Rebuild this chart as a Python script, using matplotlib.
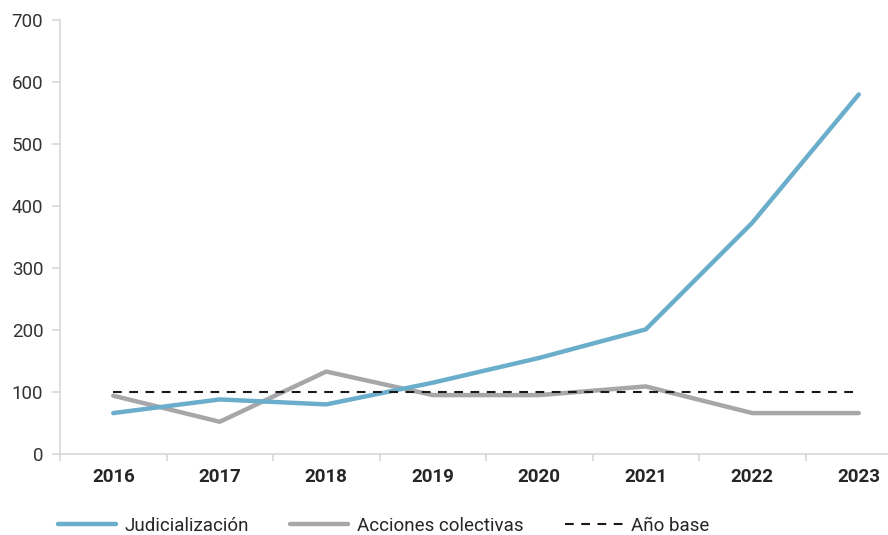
import numpy as np
import matplotlib.pyplot as plt
from matplotlib.ticker import FixedLocator, NullFormatter

years = ["2016", "2017", "2018", "2019", "2020", "2021", "2022", "2023"]
judicializacion = [66, 88, 80, 115, 155, 201, 373, 580]
acciones_colectivas = [94, 52, 133, 95, 95, 109, 66, 66]
anio_base = [100, 100, 100, 100, 100, 100, 100, 100]

plt.rcParams['font.family'] = ['Roboto', 'DejaVu Sans']

W, H = 888, 535
fig = plt.figure(figsize=(W / 100, H / 100), dpi=100)
# axes run past the right edge of the figure, so the last category is cut off
left, right, top, bottom = 60, 912, 20, 454
ax = fig.add_axes([left / W, 1 - bottom / H, (right - left) / W, (bottom - top) / H])

x = np.arange(len(years))
ax.plot(x, judicializacion, color='#6aaecb', lw=3.2, solid_capstyle='round',
        solid_joinstyle='round', label='Judicialización', zorder=3)
ax.plot(x, acciones_colectivas, color='#a7a7aa', lw=3.2, solid_capstyle='round',
        solid_joinstyle='round', label='Acciones colectivas', zorder=2)
ax.plot(x, anio_base, color='#1a1a1a', lw=1.5, dashes=(4.2, 3.6),
        label='Año base', zorder=4)

ax.set_xlim(-0.5, len(years) - 0.5)
ax.set_ylim(0, 700)
ax.set_yticks(range(0, 701, 100))

# tick marks between categories, labels at the centres
ax.xaxis.set_major_locator(FixedLocator(np.arange(-0.5, len(years), 1.0)))
ax.xaxis.set_major_formatter(NullFormatter())
ax.xaxis.set_minor_locator(FixedLocator(x))
ax.set_xticklabels(years, minor=True)
ax.tick_params(axis='x', which='major', length=5, width=1.1, color='#d4d4d4')
ax.tick_params(axis='x', which='minor', length=0, pad=10, labelsize=13.5,
               labelcolor='#262626')
for lbl in ax.get_xticklabels(minor=True):
    lbl.set_fontweight('bold')
ax.tick_params(axis='y', length=5.5, width=1.1, color='#d4d4d4', pad=6.5,
               labelsize=13.5, labelcolor='#333333')

for side in ['top', 'right']:
    ax.spines[side].set_visible(False)
for side in ['left', 'bottom']:
    ax.spines[side].set_color('#d4d4d4')
    ax.spines[side].set_linewidth(1.1)

fig.legend(loc='center left', bbox_to_anchor=(41 / W, 1 - 526 / H), ncol=3,
           frameon=False, fontsize=13.5, handlelength=3.1, handletextpad=0.45,
           columnspacing=2.2, labelcolor='#262626')

fig.savefig('out.png', dpi=100)
